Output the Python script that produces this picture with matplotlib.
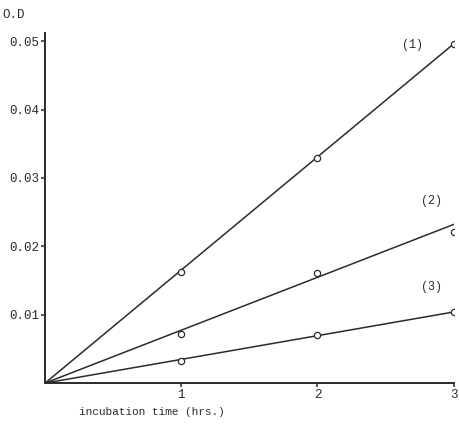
import matplotlib.pyplot as plt

hours = [1, 2, 3]
od_1 = [0.0162, 0.0329, 0.0496]
od_2 = [0.0072, 0.0161, 0.0221]
od_3 = [0.0032, 0.0070, 0.0104]
# straight lines drawn from the origin to these values at 3 hrs
line_ends = [0.0496, 0.0232, 0.0104]
curve_labels = ['(1)', '(2)', '(3)']
yticks = [0.01, 0.02, 0.03, 0.04, 0.05]
ytick_labels = ['0.01', '0.02', '0.03', '0.04', '0.05']

ink = '#2b2b2b'
plt.rcParams['font.family'] = ['Liberation Mono', 'DejaVu Sans Mono']

fig = plt.figure(figsize=(4.6, 4.29), dpi=100)
ax = fig.add_axes([0.098, 0.107, 0.888, 0.816])

for series, end in zip([od_1, od_2, od_3], line_ends):
    ax.plot([0, 3], [0, end], color=ink, lw=1.1)
    ax.plot(hours, series, 'o', mfc='white', mec=ink, ms=4.5, mew=0.9)

ax.text(2.62, 0.0495, curve_labels[0], fontsize=8.5, color=ink, va='center')
ax.text(2.76, 0.0267, curve_labels[1], fontsize=8.5, color=ink, va='center')
ax.text(2.76, 0.0140, curve_labels[2], fontsize=8.5, color=ink, va='center')

ax.set_xlim(0, 3.0)
ax.set_ylim(0, 0.0512)
ax.set_xticks(hours)
ax.set_xticklabels([str(h) for h in hours], fontsize=9, color=ink)
ax.set_yticks(yticks)
ax.set_yticklabels(ytick_labels, fontsize=9, color=ink)
ax.tick_params(length=3, width=1.1, color=ink, pad=1)

for side in ['top', 'right']:
    ax.spines[side].set_visible(False)
for side in ['left', 'bottom']:
    ax.spines[side].set_linewidth(1.4)
    ax.spines[side].set_color(ink)

fig.text(0.005, 0.965, 'O.D', fontsize=9, color=ink, va='center')
fig.text(0.33, 0.04, 'incubation time (hrs.)', fontsize=8, color=ink, ha='center', va='center')

fig.savefig('out.png', dpi=100)
